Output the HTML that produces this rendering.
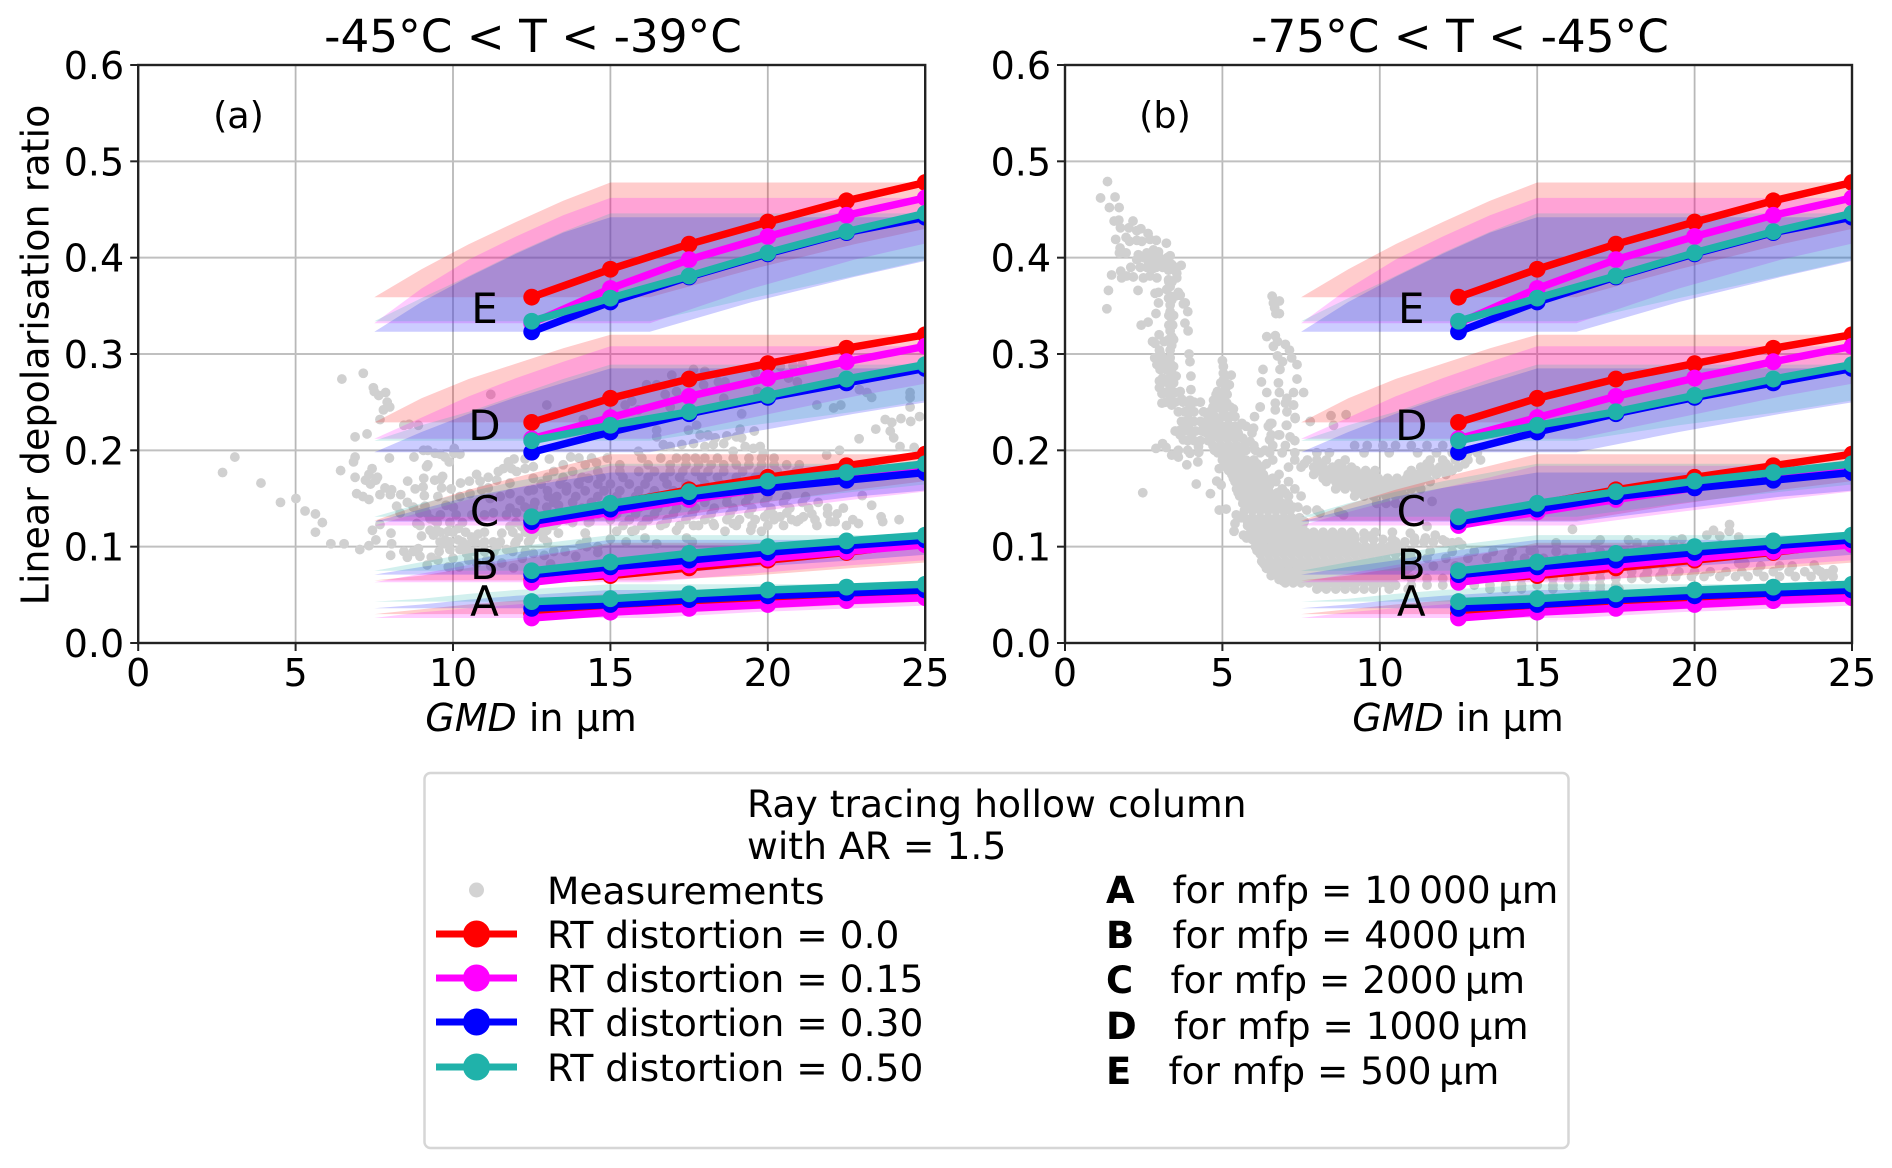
<!DOCTYPE html>
<html lang="en">
<head>
<meta charset="utf-8">
<title>Linear depolarisation ratio vs GMD</title>
<style>
html,body{margin:0;padding:0;background:#fff;}
svg{display:block;font-family:"DejaVu Sans","Liberation Sans",sans-serif;fill:#000;}
text{fill:#000;}
</style>
</head>
<body>
<svg id="figure" xmlns="http://www.w3.org/2000/svg" width="1892" height="1168" viewBox="0 0 1892 1168">
  <defs>
    <clipPath id="clip-a"><rect x="138.2" y="65" width="787" height="578"/></clipPath>
    <clipPath id="clip-b"><rect x="1065" y="65" width="787" height="578"/></clipPath>
  </defs>
  <g id="panel-a"></g>
  <g id="panel-b"></g>

  <text x="533" y="52" font-size="45.3" text-anchor="middle">-45°C &lt; T &lt; -39°C</text>
  <text x="1460" y="52" font-size="45.3" text-anchor="middle">-75°C &lt; T &lt; -45°C</text>
  <text x="238.5" y="128" font-size="36.5" text-anchor="middle">(a)</text>
  <text x="1165" y="128" font-size="36.5" text-anchor="middle">(b)</text>
  <text transform="translate(48.5,355) rotate(-90)" font-size="38" text-anchor="middle">Linear depolarisation ratio</text>
  <text x="531" y="731" font-size="38" text-anchor="middle"><tspan font-style="italic">GMD</tspan> in µm</text>
  <text x="1458" y="731" font-size="38" text-anchor="middle"><tspan font-style="italic">GMD</tspan> in µm</text>

  <g>
    <rect x="424.5" y="773" width="1144" height="375" rx="6" ry="6" fill="#fff" stroke="#d6d6d6" stroke-width="2.5"/>
    <text x="747" y="817" font-size="37.7">Ray tracing hollow column</text>
    <text x="747" y="859" font-size="37.7">with AR = 1.5</text>

    <circle cx="476.5" cy="890" r="7.5" fill="#d3d3d3"/>
    <text x="547" y="904" font-size="37.6">Measurements</text>

    <line x1="436" x2="517" y1="934" y2="934" stroke="#ff0000" stroke-width="7"/>
    <circle cx="476.5" cy="934" r="13.5" fill="#ff0000"/>
    <text x="547" y="948" font-size="37.6">RT distortion = 0.0</text>

    <line x1="436" x2="517" y1="978" y2="978" stroke="#ff00ff" stroke-width="7"/>
    <circle cx="476.5" cy="978" r="13.5" fill="#ff00ff"/>
    <text x="547" y="992" font-size="37.6">RT distortion = 0.15</text>

    <line x1="436" x2="517" y1="1022" y2="1022" stroke="#0000ff" stroke-width="7"/>
    <circle cx="476.5" cy="1022" r="13.5" fill="#0000ff"/>
    <text x="547" y="1036" font-size="37.6">RT distortion = 0.30</text>

    <line x1="436" x2="517" y1="1067" y2="1067" stroke="#20b2aa" stroke-width="7"/>
    <circle cx="476.5" cy="1067" r="13.5" fill="#20b2aa"/>
    <text x="547" y="1081" font-size="37.6">RT distortion = 0.50</text>

    <text x="1106" y="903" font-size="37" font-weight="bold">A</text>
    <text x="1172.5" y="903" font-size="37.4">for mfp = 10&#8201;000&#8201;µm</text>
    <text x="1106" y="948" font-size="37" font-weight="bold">B</text>
    <text x="1172.5" y="948" font-size="37.4">for mfp = 4000&#8201;µm</text>
    <text x="1106" y="993" font-size="37" font-weight="bold">C</text>
    <text x="1170.5" y="993" font-size="37.4">for mfp = 2000&#8201;µm</text>
    <text x="1106" y="1039" font-size="37" font-weight="bold">D</text>
    <text x="1174" y="1039" font-size="37.4">for mfp = 1000&#8201;µm</text>
    <text x="1106" y="1084" font-size="37" font-weight="bold">E</text>
    <text x="1168.5" y="1084" font-size="37.4">for mfp = 500&#8201;µm</text>
  </g>
</svg>

<script>
// ---------- axis data ----------
const xTicks = [0, 5, 10, 15, 20, 25];
const xTickLabels = ['0', '5', '10', '15', '20', '25'];
const yTicks = [0, 0.1, 0.2, 0.3, 0.4, 0.5, 0.6];
const yTickLabels = ['0.0', '0.1', '0.2', '0.3', '0.4', '0.5', '0.6'];

// ---------- ray tracing series ----------
const gmdValues = [12.5, 15, 17.5, 20, 22.5, 25];

const eRed     = [0.359, 0.388, 0.414, 0.437, 0.459, 0.478];
const eMagenta = [0.332, 0.368, 0.398, 0.422, 0.444, 0.462];
const eBlue    = [0.323, 0.354, 0.380, 0.404, 0.426, 0.442];
const eTeal    = [0.334, 0.358, 0.381, 0.405, 0.427, 0.446];

const dRed     = [0.229, 0.254, 0.274, 0.290, 0.306, 0.320];
const dMagenta = [0.212, 0.234, 0.256, 0.275, 0.292, 0.308];
const dBlue    = [0.198, 0.219, 0.238, 0.255, 0.270, 0.285];
const dTeal    = [0.210, 0.226, 0.240, 0.257, 0.274, 0.289];

const cRed     = [0.127, 0.144, 0.159, 0.172, 0.184, 0.196];
const cMagenta = [0.122, 0.136, 0.149, 0.161, 0.172, 0.184];
const cBlue    = [0.126, 0.139, 0.152, 0.161, 0.169, 0.177];
const cTeal    = [0.131, 0.145, 0.157, 0.168, 0.177, 0.186];

const bRed     = [0.065, 0.070, 0.078, 0.086, 0.094, 0.104];
const bMagenta = [0.063, 0.072, 0.081, 0.088, 0.095, 0.102];
const bBlue    = [0.071, 0.079, 0.086, 0.094, 0.101, 0.107];
const bTeal    = [0.075, 0.084, 0.093, 0.100, 0.106, 0.112];

const aRed     = [0.030, 0.035, 0.040, 0.044, 0.048, 0.051];
const aMagenta = [0.026, 0.032, 0.036, 0.040, 0.044, 0.047];
const aBlue    = [0.036, 0.040, 0.045, 0.049, 0.052, 0.055];
const aTeal    = [0.043, 0.046, 0.051, 0.055, 0.058, 0.061];

const mfpLetters = ['A', 'B', 'C', 'D', 'E'];
const mfpLetterGmd = [11, 11, 11, 11, 11];
const mfpLetterRatio = [0.028, 0.0665, 0.1215, 0.2108, 0.332];
const seriesByMfp = [
  [aRed, aMagenta, aBlue, aTeal],
  [bRed, bMagenta, bBlue, bTeal],
  [cRed, cMagenta, cBlue, cTeal],
  [dRed, dMagenta, dBlue, dTeal],
  [eRed, eMagenta, eBlue, eTeal]
];
const bandLowFactor = 0.6;
const bandHighFactor = 1.3;

// ---------- measurements: panel a, individually read points [GMD, ratio] ----------
const measurementsA = [
[2.68,.177],[3.07,.193],[3.9,.166],[4.52,.146],[5.01,.150],[5.3,.137],[5.63,.134],[5.85,.125],[5.63,.115],[6.12,.103],[6.54,.103],[7.04,.097],[7.33,.101],[7.55,.107],[7.44,.117],[7.68,.123],[8.03,.114],[8.05,.103],[8.02,.091],[8.44,.095],[8.55,.089],[8.74,.095],[8.9,.098],[8.95,.09],[9.18,.081],[9.31,.089],[9.56,.095],[9.52,.086],
[6.47,.274],[7.15,.280],[7.47,.265],[7.5,.261],[7.64,.257],[7.86,.26],[7.91,.250],[7.99,.245],[7.79,.242],[7.68,.232],[8.44,.226],[8.61,.227],[8.9,.226],[11.2,.258],[12.98,.247],[6.89,.214],[7.27,.217],
[7.98,.192],[6.89,.193],[6.84,.188],[6.43,.179],[7.43,.181],[7.33,.175],[6.89,.172],[7.22,.169],[7.6,.172],[7.55,.169],[7.38,.165],[6.94,.155],[7.14,.152],[7.33,.149],[7.68,.154],[7.84,.161],[8.05,.159],[8.01,.154],[8.34,.154],[8.56,.168],[8.8,.16],[9.05,.162],[9.07,.171],[9.16,.183],[9.2,.185],[9.42,.169],[9.61,.17],[9.67,.173],[9.64,.161],[9.94,.16],[9.09,.153],[9.52,.152],[8.21,.142],[8.55,.146],[8.74,.141],[9.11,.142],[9.78,.143],
[8.76,.193],[9.06,.2],[9.2,.2],[9.43,.197],[9.59,.196],[9.75,.193],[9.88,.188],[10.04,.202],[10.03,.197],[10.22,.196],[12.29,.191],[12.55,.183],[13.06,.191],[13.74,.193],[10.75,.175],[11.12,.172],[10.52,.168],[10.24,.166],[10.86,.168],[11.44,.178],[11.6,.181],[11.76,.188],[11.94,.191],[11.86,.181],[12.02,.178],[12.29,.181],[11.39,.169],[11.12,.161],[11.81,.166],[12.55,.171],
[9.27,.117],[9.48,.117],[9.85,.116],[10.17,.119],[9,.111],[9.38,.112],[9.59,.105],[9.75,.107],[10.17,.107],[10.43,.102],[10.59,.11],[10.8,.113],[10.96,.103],[11.28,.105],[11.55,.114],[11.81,.121],[12.08,.109],[12.55,.112],[12.98,.117],[13.35,.114],[14.2,.114],[14.25,.107],[12.18,.121],[12.77,.121],[13.19,.122],[10.22,.097],[9.9,.097],[9.7,.103],[11.39,.1],[11.7,.097],[11.97,.103],[12.45,.107],[12.87,.109],[14.04,.102],
[9.85,.079],[10,.088],[10.43,.093],[11.07,.086],[11.55,.083],[11.92,.078],[10.2,.079],[10.75,.083],[12.55,.093],[13.56,.095],[14.25,.1],[10.5,.086],[11.2,.08],[12.2,.088],[12.9,.091],[13.1,.082],[13.9,.09],[14.6,.094],
[8.85,.124],[8.95,.122],[9.27,.129],[9.43,.127],[8.95,.135],[9.16,.135],[8.32,.135],[10.01,.141],[10.22,.152],[10.54,.155],[10.91,.159],[11.18,.15],[11.5,.152],[11.81,.155],[12.13,.148],[12.29,.141],[12.55,.141],[12.98,.141],[11.28,.135],[11.7,.133],[12.02,.135],[11.81,.14],[12.55,.159],[13.03,.152],[13.35,.143],[13.61,.162],[13.98,.166],[14.3,.171],[14.56,.187],[13.93,.131],[14.35,.126],[13.61,.128],[12.98,.131],
[16.95,.278],[17.64,.284],[18,.282],[16.15,.268],[16.47,.268],[16.74,.258],[17.1,.261],[17.96,.268],[18.43,.271],[18.64,.271],[18.6,.254],[19.6,.281],[20.4,.287],[20.8,.288],[21.1,.289],[20.66,.275],[20.94,.271],[19.68,.261],[19.17,.238],[15.68,.251],[15.47,.247],[14.14,.232],[15.89,.242],[16.9,.245],[21.56,.247],[22.09,.244],[22.32,.247],[22.91,.263],[23.15,.26],[23.3,.255],[24.52,.26],[24.52,.255],[24.52,.245],[23.73,.232],[23.94,.229],[24.23,.233],[24.54,.23],[24.82,.235],[23.43,.222],[23.89,.22],[24,.213],[22.9,.212],[24.2,.204],[24.65,.203],[22.28,.2],[21.87,.195],
[16.47,.221],[16.47,.214],[17.48,.221],[17.74,.226],[17.85,.216],[18.1,.216],[18.33,.213],[18.7,.215],[19.12,.222],[19,.214],[19.57,.22],[19.17,.213],[15.89,.199],[16.68,.206],[16.9,.204],[17.27,.206],[17.64,.207],[18,.204],[18.27,.206],[18.6,.207],[18.9,.199],[19.28,.204],[19.54,.202],[19.76,.204],[19.86,.197],
[23.3,.143],[23,.153],[23.6,.131],[23.65,.126],[24.17,.128],[22.7,.128],[22.88,.124],[22.5,.122],[22.14,.126],[21.98,.126],[21.56,.122],[21.13,.131],[20.92,.126],[20.76,.128],[20.6,.135],[20.39,.131],[20.18,.133],[19.9,.131],[19.8,.116],[19.46,.117],[18.64,.116],[18.27,.124],[18.9,.124],[18.7,.128],[17.64,.122],[17.1,.117],[16.74,.124],[16.15,.128],[15.78,.117],[15.68,.116],[15.2,.116],[14.2,.114],[16.1,.109],[17.42,.109],[16.47,.103],[15.5,.105],[15,.108],[14.6,.1],[17.6,.105]
];
// panel a, dense cloud read row by row: [ratio, [GMD...]]
const measurementRowsA = [
[.192,[14.0,14.4,14.9,16,16.6,17.1,17.4,17.7,18,18.4,18.9,19.4,19.8,20.2]],
[.185,[13.5,14.2,15.3,16.2,16.9,17.4,17.8,18.2,18.6,19,19.4,19.8,20.2,20.6,21]],
[.178,[13.2,13.8,14.6,15.3,15.9,16.4,16.9,17.3,17.7,18.1,18.6,19.2,19.7,20.3,20.9]],
[.172,[13,13.5,14.1,14.7,15.4,16.2,16.7,17.2,17.9,18.4,19,19.6,20.1]],
[.165,[12.8,13.4,14,14.6,15,15.6,16.1,16.8,17.4,18,18.5,19,19.5]],
[.158,[12.4,13,13.6,14.2,14.8,15.3,15.9,16.4,17,17.6,18.2,18.8]],
[.152,[13.3,13.9,14.6,15.2,15.8,16.3,16.9,17.5,18.1,18.7,19.4,20,20.6,21.2]],
[.146,[12.6,13.2,13.8,14.4,15,15.6,16.2,16.8,17.4,18,18.7,19.3,19.9,20.5,21.1,21.6]],
[.140,[14.1,14.7,15.3,15.9,16.5,17.1,17.7,18.3,18.9,19.5,20.1,20.7,21.3,21.9,22.4]],
[.134,[14.6,15.2,15.8,16.4,17,17.6,18.2,18.8,19.4,20,21.4,21.9,22.2]],
[.128,[15,15.6,16.2,16.8,17.4,18,19.1,19.6,20.2,21,21.5]],
[.122,[15.4,16,16.6,17.2,17.8,18.3,19,19.5,20,20.5]],
[.133,[9.6,10.1,10.6,11,12.6,13.1]],
[.125,[9.5,9.9,10.3,12,12.4,12.8,13.3,13.8,14.3]],
[.115,[9.6,10,10.4,11,11.9,12.3,12.8]],
[.105,[9.9,10.3,10.7,11,11.5,12,12.4,13]],
[.095,[10.6,11,11.3,11.9,12.3,13.2]]
];

// ---------- measurements: panel b, individually read points ----------
const measurementsB = [
[1.35,.479],[1.13,.462],[1.59,.463],[1.41,.452],[1.72,.452],[1.56,.438],[1.71,.439],[2.16,.438],[1.76,.431],[2.03,.431],[2.28,.428],[2.41,.43],[2.64,.425],[1.61,.419],[1.94,.421],[2.05,.417],[2.28,.418],[2.44,.417],[2.7,.419],[2.9,.418],[3.22,.415],[1.75,.41],[1.73,.405],[1.94,.405],[2.33,.403],[2.6,.405],[2.81,.408],[2.97,.406],[3.34,.402],[2.28,.398],[2.65,.396],[2.92,.394],[3.18,.393],[3.39,.393],[3.69,.392],[2.09,.39],[2.39,.39],[2.81,.389],[3.29,.387],[3.55,.384],[1.48,.382],[1.77,.386],[1.8,.379],[1.96,.381],[2.17,.38],[2.49,.379],[2.7,.381],[2.92,.379],[3.55,.379],[3.29,.377],[3.34,.37],[1.38,.366],[2.32,.366],[3.23,.367],[2.86,.363],[2.97,.364],[3.6,.364],[3.66,.361],[3.29,.358],[3.39,.356],[2.97,.353],[3.82,.353],[3.76,.352],[1.33,.347],[3.34,.351],[3.34,.344],[3.9,.344],[2.89,.342],[3.34,.339],[2.64,.333],[2.42,.33],[3.81,.332],[3.39,.331],[3.34,.324],[3.91,.324],[3.39,.318],[2.99,.32],[3.15,.313],[2.78,.313],[2.86,.311],[3.39,.309],[3.34,.304],[3,.304],[3.94,.3],[3.02,.301],[2.85,.296],[3.08,.297],[3.34,.296],[3.97,.292],[2.92,.289],[3.02,.284],[3.23,.284],[3.45,.287],[3.39,.28],[3.53,.277],[4,.277],[3,.272],[3.18,.271],[3.45,.27],[3,.265],[3.34,.265],[4,.263],[3.08,.259],[3.66,.261],[3.34,.256],[3.71,.253],[3.08,.249],[3.39,.247],[3.97,.252],[3.97,.245],[3.92,.239],[3.92,.232],[3.92,.225],[3.76,.221],[4.04,.218],
[5,.293],[5.03,.287],[5.03,.28],[5.28,.278],[5.03,.273],[5.22,.268],[5.09,.263],[4.84,.261],[4.72,.252],[4.98,.252],[5.14,.249],[4.82,.244],[5.35,.243],[5.03,.24],[4.66,.235],[4.87,.233],[5.19,.233],[4.4,.223],[4.82,.225],[5.14,.225],[5.62,.228],[5.41,.225],[4.5,.218],[4.7,.218],[4.95,.218],[5.2,.218],[5.5,.218],
[6.58,.36],[6.81,.355],[6.62,.353],[6.66,.348],[6.81,.342],[6.7,.342],[6.41,.318],[6.68,.319],[6.75,.313],[6.62,.308],[7,.31],[7.13,.304],[6.75,.298],[7.2,.296],[6.91,.292],[7.37,.289],[6.29,.284],[6.83,.284],[7.37,.274],[6.24,.271],[6.78,.27],[6.41,.26],[6.81,.26],[7.26,.26],[7.58,.26],[7.05,.254],[7,.249],[6.68,.249],[7.26,.247],[6.2,.245],[6.68,.242],[7.05,.24],[6.02,.235],[7.31,.234],[6.52,.228],[6.47,.225],[7.05,.226],[5.99,.223],[5.94,.218],[6.55,.216],[6.82,.216],[7.79,.23],[8.45,.236],[8.93,.237],[8.53,.226],
[3.66,.221],[3.66,.216],[3.76,.211],[4.19,.209],[4.24,.204],[4.45,.219],[6.2,.245],[6.57,.228],[6.46,.225],[6.78,.216],[7.03,.226],[7.15,.214],[6.5,.211],[5.88,.209],[7.26,.247],[7.31,.233],[7.3,.21],
[2.89,.202],[3.1,.207],[3.21,.203],[3.39,.195],[3.6,.193],[3.87,.185],[4.22,.188],[4.17,.165],[2.47,.156],[4.62,.155],[4.82,.168],[4.96,.164],[4.9,.181],[4.9,.138],[5.12,.139],[5.44,.133],[5.6,.13],[5.4,.124],[5.37,.116],[5.67,.112],[5.77,.109],[3.97,.197],[3.6,.2],[3.9,.2],[4.25,.198],[6.3,.083],[6.94,.064],[8.08,.058],
[11.66,.147],[8,.138],[8.85,.133],[8.7,.136],[7.68,.138],[8.1,.135],[9.5,.114],[9.85,.115],[10.4,.115],[10.97,.114],[11.1,.109],[11.45,.109],[11.76,.112],[11.5,.121],[12,.107],[12.3,.104],[12.6,.102],
[16.12,.118],[21.11,.123],[20.6,.117],[20.39,.112],[21.1,.116],[20.8,.111],[21.4,.11],[19.6,.108],[19.33,.106],[18.65,.103],[18.9,.103],[17.9,.107],[18.17,.104],[17,.107],[16.85,.103],[15.6,.104],[14.78,.096],[22.7,.08],[23.1,.08],[23.8,.081],[21.4,.083],[21.6,.083],[22.1,.08],[23.9,.076],[24.2,.072],[24.4,.076]
];
// panel b, dense band read row by row: [ratio, [GMD...]]
const measurementRowsB = [
[.2125,[4.65,4.9,5.15,5.4,5.65]],
[.205,[4.7,4.95,5.2,5.45,5.7,6,6.6,7,9.2,9.6,10.1,10.5,11,11.5,12,12.4]],
[.1975,[4.85,5.1,5.35,5.6,6.2,6.5,6.9,7.3,8,8.4,9.5,10.3,11.2,11.8,12.3,12.8,13.1]],
[.19,[5,5.25,5.5,5.75,6,6.6,7.3,7.7,8,8.3,8.9,11.6,12,12.4,12.8,13.2]],
[.1825,[5.15,5.4,5.65,5.9,6.25,7.1,7.5,7.9,8.2,8.5,8.8,9.1,11.3,11.6,11.9,12.2,12.5]],
[.175,[5.3,5.55,5.8,6.05,6.3,6.8,7.9,8.2,8.5,8.8,9.1,9.4,9.7,10.9,11.2,11.5,11.8,12.1]],
[.1675,[5.4,5.65,5.9,6.15,6.7,7.1,8.3,8.6,8.9,9.2,9.5,9.8,10.1,10.4,10.7,11,11.3,11.6]],
[.16,[5.45,5.7,5.95,6.2,6.45,6.9,7.3,8.6,8.9,9.2,9.5,9.8,10.1,10.4,10.7,11,11.3]],
[.1525,[5.55,5.8,6.05,6.3,6.55,6.8,7.1,7.5,9.2,9.5,9.8,10.2,10.5,10.8]],
[.145,[5.65,5.9,6.15,6.4,6.65,6.9,7.1,9.9,10.2,10.5]],
[.1375,[5.7,5.95,6.2,6.45,6.7,6.95,7.15]],
[.13,[5.7,5.95,6.2,6.45,6.7,6.95,7.2,7.45]],
[.122,[5.8,6.05,6.3,6.55,6.8,7.05,7.3,7.55]],
[.115,[5.9,6.15,6.4,6.65,6.9,7.15,7.4,7.65,7.9,8.2,8.5,8.8,9.1]],
[.1075,[5.95,6.2,6.45,6.7,6.95,7.2,7.45,7.7,7.95,8.2,8.45,8.7,8.95,9.2,9.5,9.8,10.1,10.4]],
[.1,[6.05,6.3,6.55,6.8,7.05,7.3,7.55,7.8,8.05,8.3,8.55,8.8,9.05,9.3,9.55,9.8,10.05,10.3,10.6]],
[.0925,[6.2,6.45,6.7,6.95,7.2,7.45,7.7,7.95,8.2,8.45,8.7,8.95,9.2,9.45,9.7,9.95,10.2,10.5,10.8]],
[.085,[6.25,6.5,6.75,7,7.25,7.5,7.75,8,8.25,8.5,8.75,9,9.25,9.5,9.75,10,10.25,10.5,10.75,11]],
[.0775,[6.4,6.65,6.9,7.15,7.4,7.65,7.9,8.15,8.4,8.65,8.9,9.15,9.4,9.65,9.9,10.15,10.4,10.65,10.9]],
[.07,[6.55,6.8,7.05,7.3,7.55,7.8,8.05,8.3,8.55,8.8,9.05,9.3,9.55,9.8,10.05,10.3,10.55,10.8]],
[.0625,[7,7.25,7.5,7.75,8,8.25,8.5,8.75,9,9.25,9.5,9.75,10,10.2]],
[.056,[8,8.3,8.6,8.9,9.2,9.5,9.8,10.3,10.9,13.5,14,14.5,15.5,16.5,17,17.6]],
[.095,[11,11.6,12.3,13,13.6,14.2,14.9,15.6,16.4,17,17.8,18.3]],
[.088,[11,11.5,12.1,12.8,13.4,14.1,14.6,15.2,15.9,16.5]],
[.08,[11,11.7,12.4]],
[.067,[11,11.5,12,12.5,13,13.5,14,14.5,15,15.5,16,16.5,17,17.5,18,18.5,19]],
[.06,[10.5,11,11.5,12,12.5,13,13.5,14,14.5,15,15.5,16,16.5,17,17.5]],
[.074,[17,17.5,18,18.5,19,19.5,20,20.5,21,21.5,22,22.5,23,23.5,24]],
[.069,[18.4,18.9,19.4,19.9,20.3,20.8,21.3,21.7,22.2,22.7,23.2,23.7,24.1,24.4]],
[.2,[4.75,5,5.25,5.5,5.75,6.05,6.35]],
[.186,[5.1,5.35,5.6,5.85,6.1,6.4,7.6,8.1,8.7,11.5,12.1,12.7]],
[.179,[5.2,5.45,5.7,5.95,6.2,8,8.35,8.65,8.95,9.25,9.55,9.85,11,11.35,11.65,11.95,12.3]],
[.171,[5.35,5.6,5.85,6.1,6.35,6.6,8.2,8.45,8.75,9.05,9.35,9.65,9.95,10.25,10.55,10.85,11.15,11.45]],
[.164,[5.5,5.75,6,6.25,6.5,8.75,9.05,9.35,9.65,9.95,10.25,10.55,10.85,11.15]],
[.156,[5.5,5.75,6,6.25,6.5,6.75,7,9.35,9.65,9.95,10.35,10.65]],
[.141,[5.75,6,6.25,6.5,6.75,7,7.25,7.4]],
[.126,[5.8,6.05,6.3,6.55,6.8,7.05,7.3,7.6]],
[.111,[6,6.25,6.5,6.75,7,7.25,7.5,7.75,8,8.3,8.6,8.9,9.2,9.7]],
[.096,[6.1,6.35,6.6,6.85,7.1,7.35,7.6,7.85,8.1,8.35,8.6,8.85,9.1,9.35,9.6,9.85,10.1,10.4,10.7]],
[.081,[6.35,6.6,6.85,7.1,7.35,7.6,7.85,8.1,8.35,8.6,8.85,9.1,9.35,9.6,9.85,10.1,10.35,10.6,10.85]],
[.066,[6.8,7.05,7.3,7.55,7.8,8.05,8.3,8.55,8.8,9.05,9.3,9.55,9.8,10.05,10.4]],
[.105,[10.5,10.8,11.1,11.4,11.7,12.1,12.5]],
[.4,[2.5,2.75,3,3.25]],
[.39,[2.6,2.9,3.1,3.3,3.5]],
[.375,[3.3,3.4]],
[.36,[3.35,3.5]],
[.34,[3.3,3.45]],
[.33,[3.3,3.42]],
[.315,[3.3,3.45]],
[.29,[3.1,3.35]],
[.275,[3.1,3.3,3.45]],
[.27,[4.95,5.1]],
[.26,[3.15,3.35,3.5]],
[.258,[4.8,5,5.15]],
[.25,[3.2,3.5,3.75,4.1,4.3]],
[.245,[4.7,4.9,5.1,5.25]],
[.24,[3.6,3.8,4.1,4.4,4.6]],
[.235,[4.55,4.75,5,5.2,5.4]],
[.23,[3.7,3.85,4.1,4.3,4.5,4.7]],
[.225,[4.4,4.6,4.75,5,5.25,5.5,5.75]],
[.22,[3.5,3.9,4.15,4.35,4.6,4.85,5.1,5.35]],
[.21,[3.9,4.1,4.3,4.55]]
];

// ---------- drawing ----------
const NS = 'http://www.w3.org/2000/svg';
const seriesColors = ['#ff0000', '#ff00ff', '#0000ff', '#20b2aa'];
const seriesKeys = ['red', 'magenta', 'blue', 'teal'];

function mk(tag, attrs, parent) {
  const el = document.createElementNS(NS, tag);
  for (const k in attrs) el.setAttribute(k, attrs[k]);
  parent.appendChild(el);
  return el;
}

function drawPanel(g, left, clipId, key, points, rows) {
  const sx = v => left + v * (787 / 25);
  const sy = v => 643 - v * (578 / 0.6);

  // grid
  xTicks.forEach(t => {
    const el = mk('line', {x1: sx(t), x2: sx(t), y1: 65, y2: 643, stroke: '#b8b8b8', 'stroke-width': 1.8}, g);
    
    
  });
  yTicks.forEach(t => {
    const el = mk('line', {x1: left, x2: left + 787, y1: sy(t), y2: sy(t), stroke: '#c0c0c0', 'stroke-width': 2}, g);
    
    
  });

  const plot = mk('g', {'clip-path': 'url(#' + clipId + ')'}, g);
  
  

  // measurements
  const dots = mk('g', {fill: '#d0d0d0'}, plot);
  
  
  points.forEach(p => {
    const c = mk('circle', {cx: sx(p[0]), cy: sy(p[1]), r: 4.9}, dots);
    
    
  });
  rows.forEach(row => {
    row[1].forEach(x => {
      const c = mk('circle', {cx: sx(x), cy: sy(row[0]), r: 4.9}, dots);
      
      
    });
  });

  // uncertainty bands
  seriesByMfp.forEach((group, gi) => {
    group.forEach((vals, si) => {
      const up = gmdValues.map((x, i) => [sx(x * bandLowFactor), sy(vals[i])]);
      const last = vals[vals.length - 1];
      const maxX = gmdValues[gmdValues.length - 1] * bandHighFactor;
      up.push([sx(maxX), sy(last)]);
      const low = gmdValues.map((x, i) => [sx(x * bandHighFactor), sy(vals[i])]).reverse();
      low.push([sx(gmdValues[0] * bandLowFactor), sy(vals[0])]);
      const pts = up.concat(low).map(p => p[0].toFixed(1) + ',' + p[1].toFixed(1)).join(' ');
      const band = mk('polygon', {points: pts, fill: seriesColors[si], 'fill-opacity': 0.2}, plot);
      
      
    });
  });

  // series lines
  seriesByMfp.forEach((group, gi) => {
    group.forEach((vals, si) => {
      const pts = gmdValues.map((x, i) => sx(x).toFixed(1) + ',' + sy(vals[i]).toFixed(1)).join(' ');
      const line = mk('polyline', {points: pts, fill: 'none', stroke: seriesColors[si], 'stroke-width': 7.5, 'stroke-linejoin': 'round'}, plot);
      
      
      gmdValues.forEach((x, i) => {
        const m = mk('circle', {cx: sx(x), cy: sy(vals[i]), r: 8.4, fill: seriesColors[si]}, plot);
        
        
      });
    });
  });

  // mfp letters
  mfpLetters.forEach((letter, i) => {
    const t = mk('text', {x: sx(mfpLetterGmd[i]), y: sy(mfpLetterRatio[i]), 'font-size': 42, 'text-anchor': 'middle'}, g);
    t.textContent = letter;
    
    
  });

  // frame
  const frame = mk('rect', {x: left, y: 65, width: 787, height: 578, fill: 'none', stroke: '#222', 'stroke-width': 2.4}, g);
  
  

  // ticks and tick labels
  xTicks.forEach((t, i) => {
    const tick = mk('line', {x1: sx(t), x2: sx(t), y1: 643, y2: 651, stroke: '#222', 'stroke-width': 2}, g);
    
    
    const label = mk('text', {x: sx(t), y: 686, 'font-size': 38, 'text-anchor': 'middle'}, g);
    label.textContent = xTickLabels[i];
    
    
  });
  yTicks.forEach((t, i) => {
    const tick = mk('line', {x1: left - 8, x2: left, y1: sy(t), y2: sy(t), stroke: '#222', 'stroke-width': 2}, g);
    
    
    const label = mk('text', {x: left - 14, y: sy(t) + 14, 'font-size': 38, 'text-anchor': 'end'}, g);
    label.textContent = yTickLabels[i];
    
    
  });
}

drawPanel(document.getElementById('panel-a'), 138.2, 'clip-a', 'a', measurementsA, measurementRowsA);
drawPanel(document.getElementById('panel-b'), 1065, 'clip-b', 'b', measurementsB, measurementRowsB);
</script>
</body>
</html>
